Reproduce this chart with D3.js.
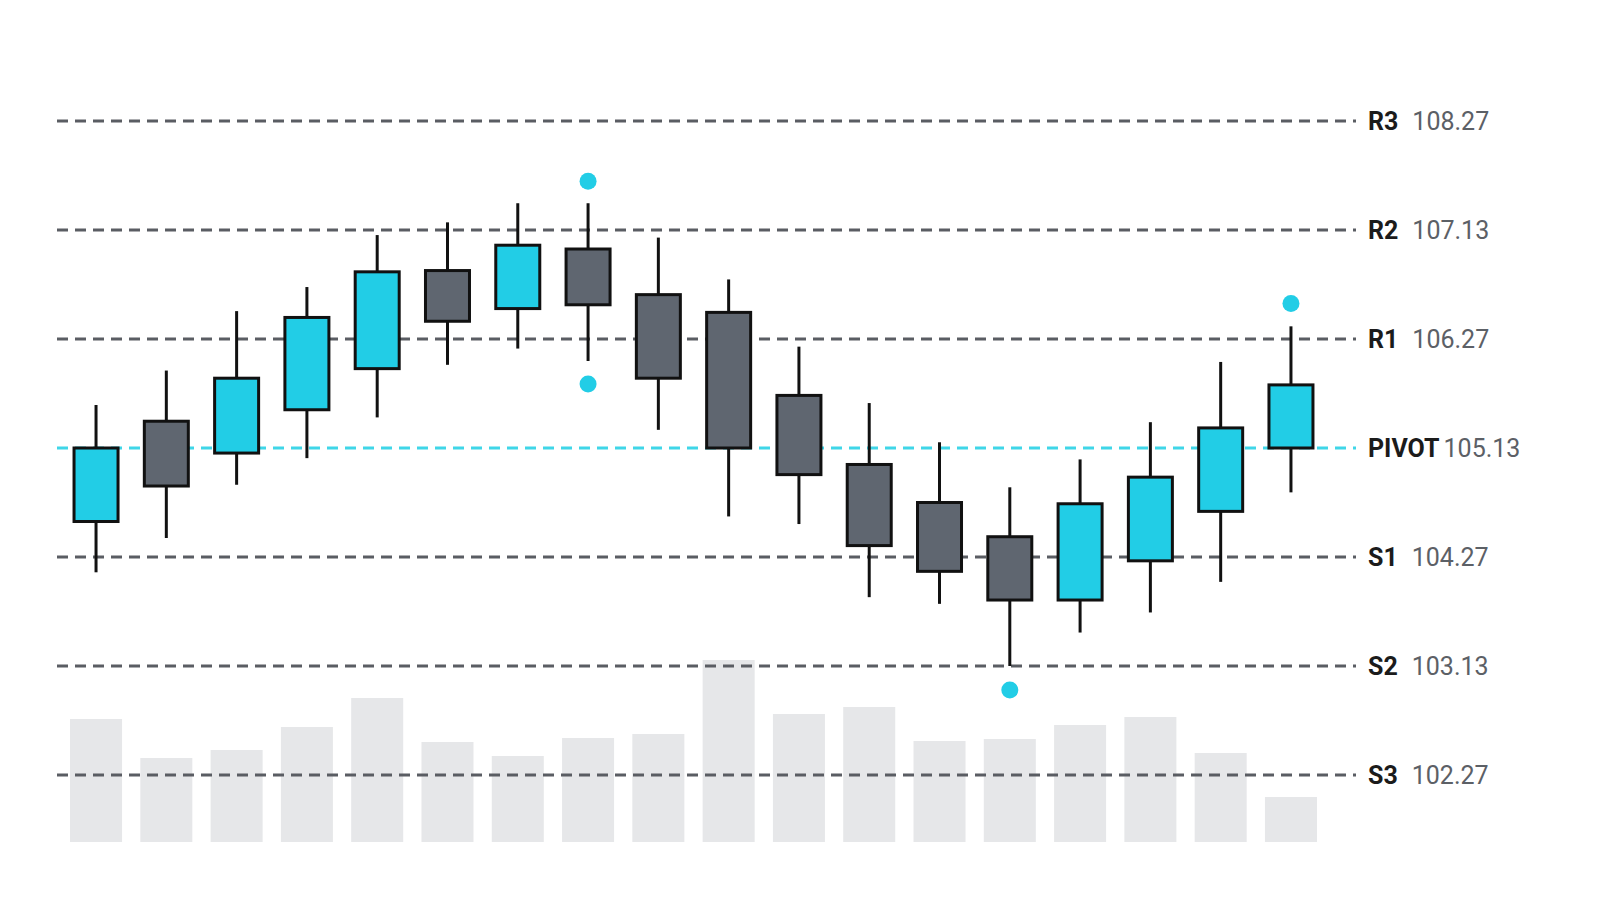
<!DOCTYPE html>
<html><head><meta charset="utf-8">
<script src="https://cdn.jsdelivr.net/npm/d3@7"></script>
<style>body{margin:0;background:#fff}</style></head>
<body><svg id="c" width="1600" height="914"></svg>
<script>
const levelNames=["R3","R2","R1","PIVOT","S1","S2","S3"];
const levelValues=[108.27,107.13,106.27,105.13,104.27,103.13,102.27];
const opens =[104.55,105.41,105.09,105.53,105.96,106.81,106.51,106.98,106.62,106.48,105.68,105.00,104.70,104.43,103.82,104.23,104.63,105.13];
const highs =[105.58,105.94,106.49,106.68,107.09,107.21,107.41,107.41,107.07,106.74,106.19,105.60,105.19,104.82,105.04,105.40,106.03,106.37];
const lows  =[104.11,104.42,104.84,105.05,105.45,106.00,106.17,106.04,105.32,104.59,104.53,103.85,103.78,103.13,103.48,103.69,104.01,104.78];
const closes=[105.13,104.83,105.86,106.44,106.80,106.41,107.01,106.54,105.86,105.13,104.92,104.36,104.12,103.82,104.69,104.90,105.34,105.79];
const volumes=[123,84,92,115,144,100,86,104,108,182,128,135,101,103,117,125,89,45];
const markerIdx=[7,7,13,17];
const markerVals=[107.64,105.80,102.94,106.55];

const svg=d3.select("#c");
const cyan="#22cde6", gray="#5f6670";
const y=d3.scaleLinear().domain(levelValues).range(levelValues.map((d,i)=>121+i*109));
const x=d3.scaleBand().domain(d3.range(opens.length)).range([63,1324]).paddingInner(0.26).paddingOuter(0.1);
const yv=d3.scaleLinear().domain([0,182]).range([842,660]);

svg.append("g").selectAll("rect").data(volumes).join("rect")
 .attr("x",(d,i)=>x(i)).attr("width",x.bandwidth()).attr("y",d=>yv(d)).attr("height",d=>842-yv(d)).attr("fill","#e6e7e9");

levelValues.forEach((v,i)=>{
 svg.append("line").attr("x1",57).attr("x2",1356).attr("y1",y(v)).attr("y2",y(v))
  .attr("stroke",i==3?"#3fd6e8":"#5a5d63").attr("stroke-width",3).attr("stroke-dasharray","11,7");
 const t=svg.append("text").attr("x",1368).attr("y",y(v)+9).attr("font-family","Roboto, sans-serif").attr("font-size",25);
 t.append("tspan").attr("font-weight","bold").attr("fill","#1b1b1b").text(levelNames[i]);
 t.append("tspan").attr("dx",i==3?4:14).attr("fill","#5c6066").text(v.toFixed(2));
});

const bw=44;
const g=svg.append("g");
opens.forEach((o,i)=>{
 const cx=x(i)+x.bandwidth()/2, c=closes[i];
 g.append("line").attr("x1",cx).attr("x2",cx).attr("y1",y(highs[i])).attr("y2",y(lows[i])).attr("stroke","#111").attr("stroke-width",3);
 g.append("rect").attr("x",cx-bw/2).attr("width",bw).attr("y",y(Math.max(o,c))).attr("height",Math.abs(y(o)-y(c)))
  .attr("fill",c>=o?cyan:gray).attr("stroke","#111").attr("stroke-width",3);
});
markerIdx.forEach((k,j)=>{
 svg.append("circle").attr("cx",x(k)+x.bandwidth()/2).attr("cy",y(markerVals[j])).attr("r",8.5).attr("fill",cyan);
});
</script></body></html>
